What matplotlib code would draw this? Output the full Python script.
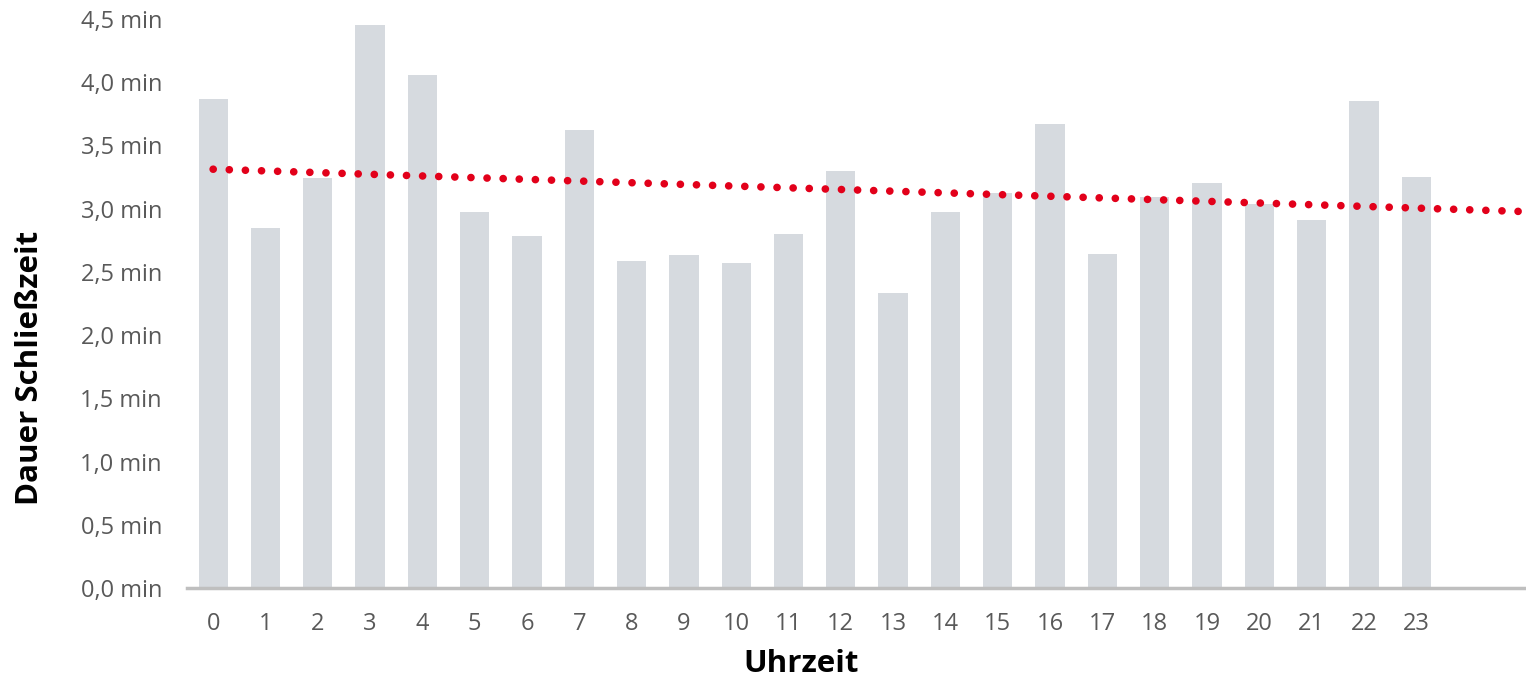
import numpy as np
import matplotlib.pyplot as plt
from matplotlib.ticker import FuncFormatter

# ── Data ──────────────────────────────────────────────────────────────────────
hours = list(range(24))
duration_min = [3.87, 2.85, 3.24, 4.45, 4.06, 2.97, 2.78, 3.62, 2.59, 2.63,
                2.57, 2.80, 3.30, 2.33, 2.97, 3.12, 3.67, 2.64, 3.09, 3.20,
                3.04, 2.91, 3.85, 3.25]
y_ticks = [0, 0.5, 1.0, 1.5, 2.0, 2.5, 3.0, 3.5, 4.0, 4.5]
forecast_periods = 2  # trend line extended past the last hour

BAR_COLOR = "#D6DADF"
TREND_COLOR = "#E2001A"
TEXT_COLOR = "#595959"
AXIS_COLOR = "#BFBFBF"

plt.rcParams["font.family"] = ["Open Sans", "DejaVu Sans"]

fig = plt.figure(figsize=(15.26, 6.82), dpi=100)
W, H = 1526, 682
ax = fig.add_axes([187 / W, (H - 588) / H, (W - 187) / W, (588 - 19) / H])

x = np.array(hours)
y = np.array(duration_min)
ax.bar(x, y, width=0.56, color=BAR_COLOR, zorder=1)

# linear trend (Excel-style trendline with forward forecast)
slope, icpt = np.polyfit(x, y, 1)
xt = np.array([0, x[-1] + forecast_periods])
ax.plot(xt, slope * xt + icpt, color=TREND_COLOR, linestyle=(0, (0.01, 2.1)),
        linewidth=5.5, dash_capstyle="round", zorder=3)

ax.set_xlim(-0.5, 25.1)
ax.set_ylim(0, 4.5)
ax.set_xticks(hours)
ax.set_yticks(y_ticks)
ax.yaxis.set_major_formatter(FuncFormatter(lambda v, p: f"{v:.1f} min".replace(".", ",")))
ax.tick_params(axis="both", length=0, labelsize=17, labelcolor=TEXT_COLOR)
ax.tick_params(axis="x", pad=17)
ax.tick_params(axis="y", pad=18)

for side in ["top", "right", "left"]:
    ax.spines[side].set_visible(False)
ax.spines["bottom"].set_color(AXIS_COLOR)
ax.spines["bottom"].set_linewidth(2.5)

fig.text(30 / W, 1 - 368 / H, "Dauer Schließzeit", rotation=90, ha="center",
         va="center", fontsize=22.5, fontweight="bold", color="black")
fig.text(801 / W, 1 - 664 / H, "Uhrzeit", ha="center", va="center",
         fontsize=22.5, fontweight="bold", color="black")

fig.savefig("out.png", dpi=100)
